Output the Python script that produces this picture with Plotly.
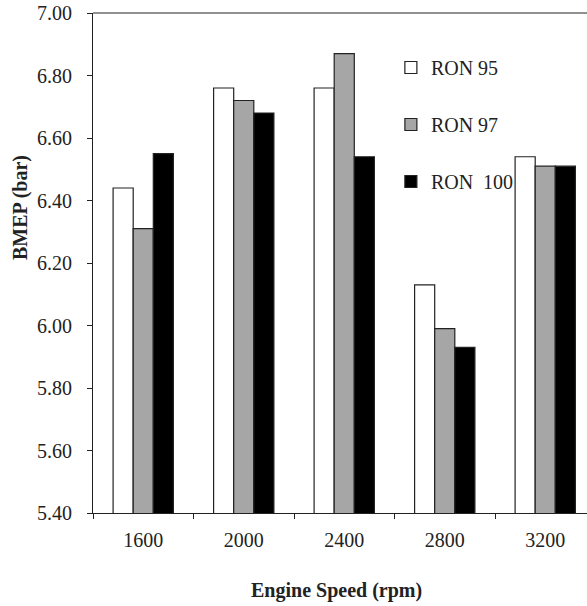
import plotly.graph_objects as go

speeds = ["1600", "2000", "2400", "2800", "3200"]
ron95 = [6.44, 6.76, 6.76, 6.13, 6.54]
ron97 = [6.31, 6.72, 6.87, 5.99, 6.51]
ron100 = [6.55, 6.68, 6.54, 5.93, 6.51]
series_names = ["RON 95", "RON 97", "RON\u00a0 100"]
series_colors = ["#ffffff", "#a6a6a6", "#000000"]
y_ticks = [5.4, 5.6, 5.8, 6.0, 6.2, 6.4, 6.6, 6.8, 7.0]

FONT = "Liberation Serif"
W, H = 587, 606
L, R, T, B = 93, 0, 13, 606 - 513
AXC = "#222222"

fig = go.Figure()
for i, (name, vals, col) in enumerate(zip(series_names, [ron95, ron97, ron100], series_colors)):
    fig.add_trace(go.Bar(
        x=speeds, y=vals, name=name, legendgroup=f"g{i}",
        marker=dict(color=col, line=dict(color=AXC, width=1.2)),
    ))

plot_w = W - L - R
plot_h = H - T - B
cat_px = 100.5
x_max = -0.5 + plot_w / cat_px

def px_x(sx):
    return (sx - L) / plot_w

def px_y(sy):
    return (H - B - sy) / plot_h

fig.update_layout(
    width=W, height=H,
    margin=dict(l=L, r=R, t=T, b=B, pad=0),
    paper_bgcolor="white", plot_bgcolor="white",
    barmode="group", bargap=0.4, bargroupgap=0,
    font=dict(family=FONT, size=20, color=AXC),
    showlegend=True,
    legend=dict(
        x=0.603, y=0.93, xanchor="left", yanchor="top",
        bgcolor="rgba(0,0,0,0)", borderwidth=0,
        tracegroupgap=28, font=dict(family=FONT, size=20, color=AXC),
    ),
    xaxis=dict(
        type="category", range=[-0.5, x_max],
        showline=True, linecolor=AXC, linewidth=1.2, mirror=False,
        ticks="outside", ticklen=5, tickcolor=AXC, tickson="boundaries",
        ticklabelstandoff=9,
        showgrid=False, zeroline=False,
        tickfont=dict(family=FONT, size=20, color=AXC),
    ),
    yaxis=dict(
        range=[5.4, 7.0], tickvals=y_ticks, tickformat=".2f",
        showline=True, linecolor=AXC, linewidth=1.2, mirror=False,
        ticks="outside", ticklen=5, tickcolor=AXC,
        ticklabelstandoff=11,
        showgrid=False, zeroline=False,
        tickfont=dict(family=FONT, size=20, color=AXC),
    ),
    shapes=[
        dict(type="line", xref="paper", yref="paper", x0=0, x1=1, y0=1, y1=1,
             line=dict(color=AXC, width=1.2), layer="above"),
    ],
    annotations=[
        dict(text="<b>BMEP (bar)</b>", textangle=-90, xref="paper", yref="paper",
             x=px_x(20), y=px_y(208),
             xanchor="center", yanchor="middle", showarrow=False,
             font=dict(family=FONT, size=20, color=AXC)),
        dict(text="<b>Engine Speed (rpm)</b>", xref="paper", yref="paper",
             x=px_x(336), y=px_y(590),
             xanchor="center", yanchor="middle", showarrow=False,
             font=dict(family=FONT, size=20, color=AXC)),
    ],
)

fig.write_html(
    "out.html",
    config={"displayModeBar": False},
    post_script="document.body.style.margin='0';document.body.style.overflow='hidden';",
)
